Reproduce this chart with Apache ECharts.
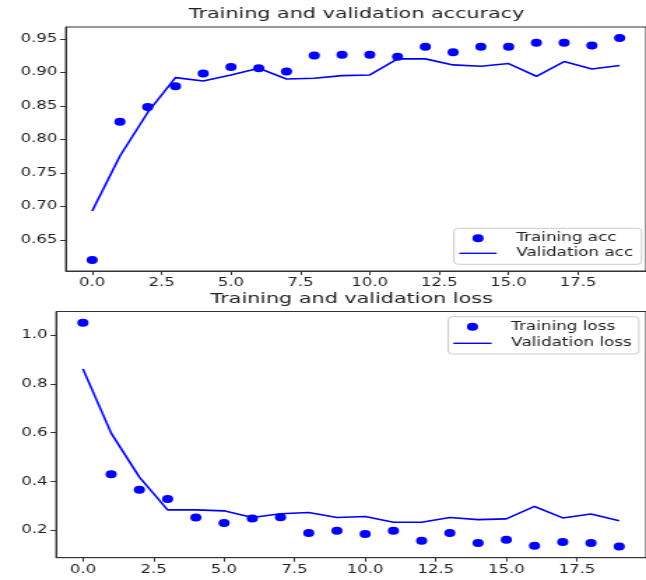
<!DOCTYPE html>
<html>
<head>
<meta charset="utf-8">
<script src="https://cdn.jsdelivr.net/npm/echarts@6/dist/echarts.min.js"></script>
<style>
  html, body { margin: 0; padding: 0; background: #fff; overflow: hidden; width: 646px; height: 580px; }
  #chart { width: 462px; height: 580px; transform: scaleX(1.3983); transform-origin: 0 0; }
</style>
</head>
<body>
<div id="chart"></div>
<script>
// ---- data ----
const epochs = [0,1,2,3,4,5,6,7,8,9,10,11,12,13,14,15,16,17,18,19];
const trainAcc = [0.620, 0.826, 0.848, 0.879, 0.898, 0.908, 0.906, 0.901, 0.925, 0.926, 0.926, 0.923, 0.938, 0.930, 0.938, 0.938, 0.944, 0.944, 0.940, 0.951];
const valAcc   = [0.693, 0.775, 0.840, 0.892, 0.887, 0.896, 0.906, 0.890, 0.891, 0.895, 0.896, 0.920, 0.920, 0.911, 0.909, 0.913, 0.894, 0.916, 0.905, 0.910];
const trainLoss = [1.050, 0.430, 0.366, 0.328, 0.253, 0.230, 0.249, 0.254, 0.189, 0.199, 0.185, 0.199, 0.158, 0.189, 0.148, 0.162, 0.137, 0.152, 0.148, 0.134];
const valLoss   = [0.861, 0.598, 0.418, 0.284, 0.284, 0.280, 0.253, 0.268, 0.273, 0.253, 0.257, 0.233, 0.233, 0.253, 0.244, 0.247, 0.298, 0.251, 0.267, 0.239];
const xTicks = [0, 2.5, 5, 7.5, 10, 12.5, 15, 17.5];
const accTicks = [0.65, 0.70, 0.75, 0.80, 0.85, 0.90, 0.95];
const lossTicks = [0.2, 0.4, 0.6, 0.8, 1.0];
const titles = ['Training and validation accuracy', 'Training and validation loss'];
const names = ['Training acc', 'Validation acc', 'Training loss', 'Validation loss'];

// matplotlib-like 5% margins
function lim(arrs) {
  const all = [].concat(...arrs);
  const mn = Math.min(...all), mx = Math.max(...all);
  const p = (mx - mn) * 0.05;
  return [mn - p, mx + p];
}
const xl = lim([epochs]);
const yAcc = lim([trainAcc, valAcc]);
const yLoss = lim([trainLoss, valLoss]);
const pts = (ys) => epochs.map((e, i) => [e, ys[i]]);

const BLUE = '#0000ff';
const TXT = '#222';
const AX = '#333';
const FS = 11.8;
const linePath = 'path://M0,0H100V5H0Z';

function xAxis(gi) {
  return {
    type: 'value', gridIndex: gi, min: xl[0], max: xl[1],
    splitLine: { show: false },
    axisLine: { show: true, onZero: false, lineStyle: { color: AX, width: 1 } },
    axisTick: { show: true, length: 4, lineStyle: { color: AX }, customValues: xTicks },
    axisLabel: { color: TXT, fontSize: FS, fontFamily: 'DejaVu Sans', margin: 6,
      customValues: xTicks, formatter: v => v.toFixed(1) }
  };
}
function yAxis(gi, lims, ticks, dec) {
  return {
    type: 'value', gridIndex: gi, min: lims[0], max: lims[1],
    splitLine: { show: false },
    axisLine: { show: true, onZero: false, lineStyle: { color: AX, width: 1 } },
    axisTick: { show: true, length: 4, lineStyle: { color: AX }, customValues: ticks },
    axisLabel: { color: TXT, fontSize: FS, fontFamily: 'DejaVu Sans', margin: 6,
      customValues: ticks, formatter: v => v.toFixed(dec) }
  };
}
function legend(left, top, n1, n2, iw, pad, gap) {
  return {
    orient: 'vertical', left: left, top: top,
    itemWidth: iw, itemHeight: 8, itemGap: gap, padding: pad,
    backgroundColor: 'rgba(255,255,255,0.8)', borderColor: '#cccccc', borderWidth: 1, borderRadius: 3,
    textStyle: { color: TXT, fontSize: 12, fontFamily: 'DejaVu Sans', lineHeight: 14, padding: [0, 0, 0, 9] },
    data: [ { name: n1, icon: 'circle' }, { name: n2, icon: linePath } ],
    selectedMode: false
  };
}

const chart = echarts.init(document.getElementById('chart'), null, { renderer: 'canvas', width: 462, height: 580 });
chart.setOption({
  animation: false,
  backgroundColor: '#fff',
  title: [
    { text: titles[0], left: 255, top: 7, padding: 0, textAlign: 'center',
      textStyle: { color: TXT, fontSize: 14.8, fontWeight: 'normal', fontFamily: 'DejaVu Sans' } },
    { text: titles[1], left: 251.5, top: 292, padding: 0, textAlign: 'center',
      textStyle: { color: TXT, fontSize: 14.8, fontWeight: 'normal', fontFamily: 'DejaVu Sans' } }
  ],
  legend: [
    legend(324.7, 228.3, names[0], names[1], 26.7, [3, 6, 4, 3.8], 1),
    legend(320.6, 316.7, names[2], names[3], 27.4, [3, 5, 3.7, 3.6], 2.6)
  ],
  grid: [
    { left: 47.06, top: 27, width: 417.44, height: 244, show: true, borderColor: AX, borderWidth: 1, backgroundColor: 'transparent' },
    { left: 40.12, top: 311.5, width: 422.6, height: 246.2, show: true, borderColor: AX, borderWidth: 1, backgroundColor: 'transparent' }
  ],
  xAxis: [ xAxis(0), xAxis(1) ],
  yAxis: [ yAxis(0, yAcc, accTicks, 2), yAxis(1, yLoss, lossTicks, 1) ],
  series: [
    { name: names[0], type: 'scatter', xAxisIndex: 0, yAxisIndex: 0, data: pts(trainAcc),
      symbol: 'circle', symbolSize: 8, itemStyle: { color: BLUE, opacity: 1 }, z: 2 },
    { name: names[1], type: 'line', xAxisIndex: 0, yAxisIndex: 0, data: pts(valAcc),
      symbol: 'none', lineStyle: { color: BLUE, width: 1.6 }, itemStyle: { color: BLUE }, z: 3 },
    { name: names[2], type: 'scatter', xAxisIndex: 1, yAxisIndex: 1, data: pts(trainLoss),
      symbol: 'circle', symbolSize: 8, itemStyle: { color: BLUE, opacity: 1 }, z: 2 },
    { name: names[3], type: 'line', xAxisIndex: 1, yAxisIndex: 1, data: pts(valLoss),
      symbol: 'none', lineStyle: { color: BLUE, width: 1.6 }, itemStyle: { color: BLUE }, z: 3 }
  ]
});
</script>
</body>
</html>
